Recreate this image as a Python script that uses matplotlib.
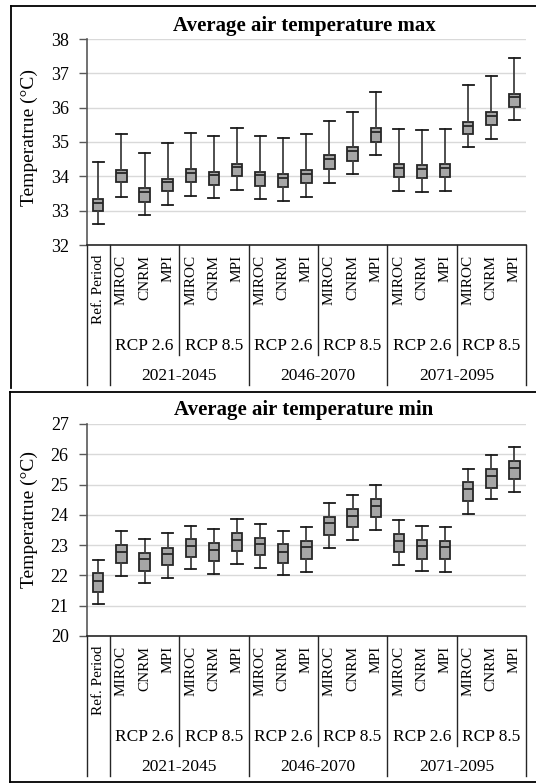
import matplotlib
matplotlib.use("Agg")
import matplotlib.pyplot as plt
from matplotlib.lines import Line2D
from matplotlib.transforms import blended_transform_factory

plt.rcParams["font.family"] = "serif"
plt.rcParams["font.serif"] = ["Liberation Serif", "DejaVu Serif"]

ref_label = "Ref. Period"
models = ["MIROC", "CNRM", "MPI"]
rcps = ["RCP 2.6", "RCP 8.5"]
periods = ["2021-2045", "2046-2070", "2071-2095"]

# box statistics, order: ref, then period -> rcp -> model
tmax_whishi = [34.41, 35.22, 34.69, 34.97, 35.25, 35.18, 35.42, 35.17, 35.11, 35.22,
               35.62, 35.87, 36.45, 35.39, 35.34, 35.39, 36.66, 36.91, 37.45]
tmax_q3 = [33.34, 34.19, 33.65, 33.92, 34.21, 34.13, 34.37, 34.13, 34.07, 34.18,
           34.61, 34.85, 35.42, 34.35, 34.32, 34.35, 35.59, 35.87, 36.41]
tmax_med = [33.21, 34.09, 33.53, 33.83, 34.10, 34.05, 34.26, 34.05, 33.95, 34.07,
            34.50, 34.75, 35.28, 34.23, 34.20, 34.23, 35.47, 35.77, 36.30]
tmax_q1 = [32.99, 33.83, 33.25, 33.57, 33.84, 33.76, 34.01, 33.72, 33.68, 33.81,
           34.22, 34.45, 35.01, 33.97, 33.94, 33.97, 35.22, 35.50, 36.03]
tmax_whislo = [32.60, 33.41, 32.87, 33.16, 33.44, 33.38, 33.60, 33.35, 33.28, 33.41,
               33.81, 34.07, 34.63, 33.57, 33.53, 33.57, 34.85, 35.10, 35.64]

tmin_whishi = [22.50, 23.47, 23.20, 23.39, 23.64, 23.53, 23.86, 23.71, 23.46, 23.61,
               24.39, 24.64, 24.97, 23.82, 23.64, 23.61, 25.51, 25.97, 26.24]
tmin_q3 = [22.07, 23.00, 22.74, 22.91, 23.20, 23.06, 23.39, 23.24, 23.03, 23.14,
           23.92, 24.18, 24.51, 23.36, 23.17, 23.14, 25.08, 25.50, 25.77]
tmin_med = [21.82, 22.78, 22.53, 22.71, 22.98, 22.85, 23.17, 23.04, 22.79, 22.93,
            23.73, 23.97, 24.29, 23.14, 22.97, 22.94, 24.84, 25.29, 25.56]
tmin_q1 = [21.45, 22.42, 22.16, 22.34, 22.60, 22.49, 22.82, 22.66, 22.42, 22.53,
           23.34, 23.61, 23.93, 22.77, 22.55, 22.55, 24.47, 24.89, 25.18]
tmin_whislo = [21.06, 21.99, 21.74, 21.91, 22.20, 22.06, 22.39, 22.24, 22.01, 22.12,
               22.91, 23.17, 23.50, 22.34, 22.16, 22.12, 24.04, 24.51, 24.75]

W, H, DPI = 536, 783, 100
fig = plt.figure(figsize=(W / DPI, H / DPI), dpi=DPI)


def px_axes(left, right, top, bottom):
    return fig.add_axes([left / W, 1 - bottom / H, (right - left) / W, (bottom - top) / H])


def fig_line(x0, y0, x1, y1, lw=1.3, color="black"):
    fig.add_artist(Line2D([x0 / W, x1 / W], [1 - y0 / H, 1 - y1 / H],
                          transform=fig.transFigure, lw=lw, color=color))


def panel(ax, title, title_y, label_y, lo, q1, med, q3, hi, ylim):
    stats = []
    for i in range(len(med)):
        stats.append({"whislo": lo[i], "q1": q1[i], "med": med[i],
                      "q3": q3[i], "whishi": hi[i], "fliers": []})
    n = len(stats)
    ax.bxp(stats, positions=list(range(n)), widths=0.45, capwidths=0.48,
           patch_artist=True, showfliers=False,
           boxprops=dict(facecolor="#a6a6a6", edgecolor="#262626", lw=1.3),
           medianprops=dict(color="#262626", lw=1.3),
           whiskerprops=dict(color="#404040", lw=1.3),
           capprops=dict(color="#1a1a1a", lw=1.3))
    ax.set_xlim(-0.5, n - 0.5)
    ax.set_ylim(*ylim)
    ax.set_yticks(range(ylim[0], ylim[1] + 1))
    ax.set_xticks([])
    ax.yaxis.grid(True, color="#d9d9d9", lw=1)
    ax.set_axisbelow(True)
    for s in ["top", "right"]:
        ax.spines[s].set_visible(False)
    ax.spines["left"].set_color("#595959")
    ax.spines["bottom"].set_color("#262626")
    ax.spines["left"].set_linewidth(1.2)
    ax.spines["bottom"].set_linewidth(1.2)
    ax.tick_params(axis="y", direction="out", length=6, width=1, color="#595959",
                   labelsize=13, pad=7)

    fig.text(304 / W, 1 - title_y / H, title, ha="center", va="center",
             fontsize=15, fontweight="bold")
    fig.text(29 / W, 1 - label_y / H, "Temperatrue (\u00b0C)", ha="center", va="center",
             rotation=90, fontsize=14)

    hpx = ax.get_position().height * H
    trans = blended_transform_factory(ax.transData, ax.transAxes)

    def yb(px):
        return -px / hpx

    # category labels
    ax.text(0, yb(10), ref_label, rotation=90, ha="center", va="top",
            fontsize=11, transform=trans)
    idx = 1
    for p in periods:
        for r in rcps:
            for m in models:
                ax.text(idx, yb(10), m, rotation=90, ha="center", va="top",
                        fontsize=11, transform=trans)
                idx += 1
    for k in range(len(periods) * len(rcps)):
        ax.text(1 + 3 * k + 1, yb(101), rcps[k % 2], ha="center", va="center",
                fontsize=12.5, transform=trans)
    for k, p in enumerate(periods):
        ax.text(1 + 6 * k + 2.5, yb(131), p, ha="center", va="center",
                fontsize=12.5, transform=trans)

    # separators
    for x in [-0.5, 0.5, 6.5, 12.5, 18.5]:
        ax.plot([x, x], [0, yb(140)], color="#262626", lw=1, transform=trans,
                clip_on=False)
    for x in [3.5, 9.5, 15.5]:
        ax.plot([x, x], [0, yb(110)], color="#262626", lw=1, transform=trans,
                clip_on=False)


ax1 = px_axes(86.7, 526, 39, 245)
panel(ax1, "Average air temperature max", 25.5, 137,
      tmax_whislo, tmax_q1, tmax_med, tmax_q3, tmax_whishi, (32, 38))

ax2 = px_axes(86.7, 526, 424, 636)
panel(ax2, "Average air temperature min", 410, 520,
      tmin_whislo, tmin_q1, tmin_med, tmin_q3, tmin_whishi, (20, 27))

# panel borders
fig_line(11, 6, W, 6)
fig_line(11, 6, 11, 388)
fig_line(10, 392, W, 392)
fig_line(10, 392, 10, 781.5)
fig_line(10, 781.5, W, 781.5)

fig.savefig("out.png", dpi=DPI)
